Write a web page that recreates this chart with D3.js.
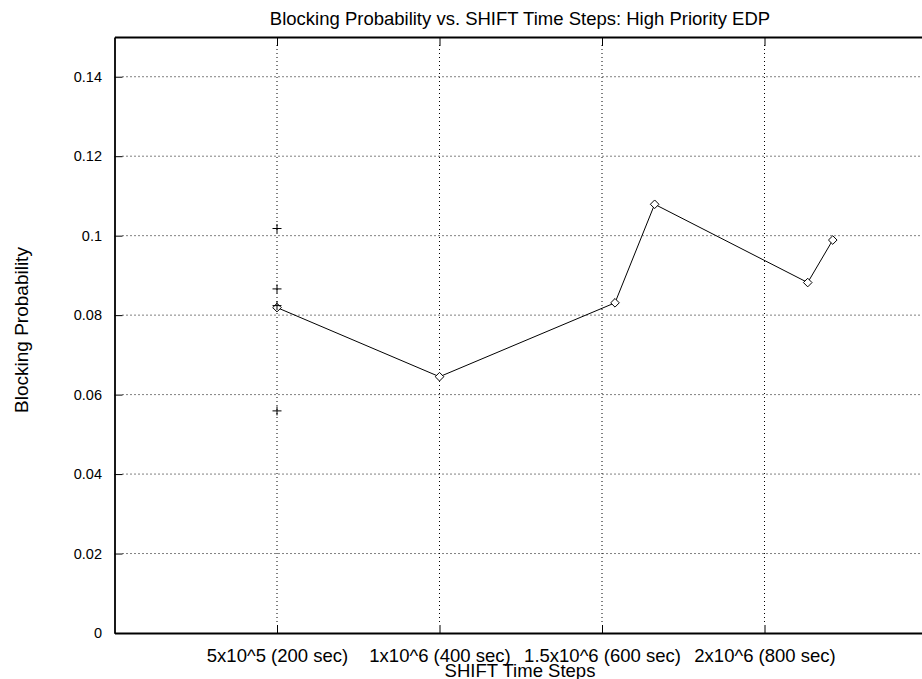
<!DOCTYPE html>
<html><head><meta charset="utf-8">
<script src="https://cdn.jsdelivr.net/npm/d3@7"></script>
<style>body{margin:0;background:#fff}svg{display:block;font-family:"Liberation Sans",Arial,sans-serif}</style>
</head><body><svg id="c" width="922" height="679"></svg>
<script>
const xTicks = [500000, 1000000, 1500000, 2000000];
const xTickLabels = ["5x10^5 (200 sec)", "1x10^6 (400 sec)", "1.5x10^6 (600 sec)", "2x10^6 (800 sec)"];
const yTicks = [0, 0.02, 0.04, 0.06, 0.08, 0.1, 0.12, 0.14];
const lineX = [500000, 1000000, 1540000, 1662000, 2133000, 2210000];
const lineY = [0.0819, 0.0645, 0.0831, 0.1079, 0.0882, 0.0989];
const crossX = [500000, 500000, 500000, 500000];
const crossY = [0.1018, 0.0866, 0.0824, 0.0559];

const svg = d3.select("#c");
const L = 114.5, R = 927, T = 37, B = 633;
const x = d3.scaleLinear().domain([0, 2500000]).range([L, R]);
const y = d3.scaleLinear().domain([0, 0.15]).range([B, T]);

// gridlines
const g = svg.append("g");
g.selectAll("line.gy").data(yTicks.filter(d => d > 0)).join("line")
  .attr("x1", L + 8).attr("x2", R).attr("y1", d => y(d)).attr("y2", d => y(d))
  .attr("stroke", "#000").attr("stroke-width", 1).attr("stroke-dasharray", "1,3");
g.selectAll("line.gx").data(xTicks).join("line")
  .attr("x1", d => x(d)).attr("x2", d => x(d)).attr("y1", T + 8).attr("y2", B - 8)
  .attr("stroke", "#000").attr("stroke-width", 1).attr("stroke-dasharray", "1,3");

// axes
const xAxis = d3.axisBottom(x).tickValues(xTicks).tickFormat((d, i) => xTickLabels[i]).tickSizeInner(-8).tickSizeOuter(0).tickPadding(16);
const xa = svg.append("g").attr("transform", `translate(0,${B})`).call(xAxis);
const xTop = d3.axisTop(x).tickValues(xTicks).tickFormat("").tickSizeInner(-9).tickSizeOuter(0);
const xt = svg.append("g").attr("transform", `translate(0,${T})`).call(xTop);
const yAxis = d3.axisLeft(y).tickValues(yTicks).tickFormat(d => d === 0 ? "0" : String(+d.toFixed(2))).tickSizeInner(-8).tickSizeOuter(0).tickPadding(12.5);
const ya = svg.append("g").attr("transform", `translate(${L},0)`).call(yAxis);
[xa, xt, ya].forEach(a => {
  a.select(".domain").attr("stroke", "#000").attr("stroke-width", 1.8);
  a.selectAll(".tick line").attr("stroke", "#000");
  a.selectAll("text").attr("fill", "#000").attr("font-family", "Liberation Sans, Arial, sans-serif");
});
xa.selectAll(".tick text").attr("font-size", 18.5).attr("dy", "0.71em").attr("y", 16);
ya.selectAll(".tick text").attr("font-size", 14.5);

// line
const pts = lineX.map((d, i) => [d, lineY[i]]);
svg.append("path").datum(pts)
  .attr("d", d3.line().x(d => x(d[0])).y(d => y(d[1])))
  .attr("fill", "none").attr("stroke", "#000").attr("stroke-width", 1);
svg.selectAll("path.dia").data(pts).join("path")
  .attr("d", "M0,-4.3L4.3,0L0,4.3L-4.3,0Z")
  .attr("transform", d => `translate(${x(d[0])},${y(d[1])})`)
  .attr("fill", "#fff").attr("stroke", "#000").attr("stroke-width", 1);
// crosses
const cp = crossX.map((d, i) => [d, crossY[i]]);
svg.selectAll("path.cr").data(cp).join("path")
  .attr("d", "M-4.5,0H4.5M0,-4.5V4.5")
  .attr("transform", d => `translate(${x(d[0])},${y(d[1])})`)
  .attr("stroke", "#000").attr("stroke-width", 1).attr("fill", "none");

// titles
svg.append("text").attr("x", 520).attr("y", 25).attr("text-anchor", "middle")
  .attr("font-size", 18.5).text("Blocking Probability vs. SHIFT Time Steps: High Priority EDP");
svg.append("text").attr("x", 520).attr("y", 677).attr("text-anchor", "middle")
  .attr("font-size", 18.5).text("SHIFT Time Steps");
svg.append("text").attr("transform", "translate(27.5,330) rotate(-90)").attr("text-anchor", "middle")
  .attr("font-size", 19).text("Blocking Probability");
</script></body></html>
